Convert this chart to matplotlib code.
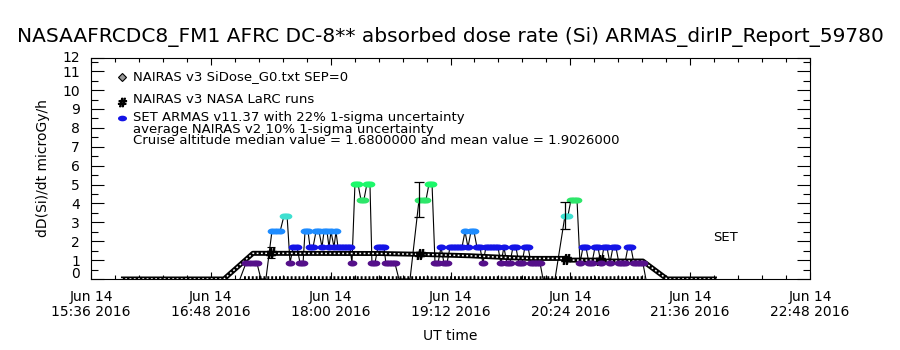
import numpy as np
import matplotlib
matplotlib.use('Agg')
import matplotlib.pyplot as plt
from matplotlib.path import Path
from matplotlib.ticker import MultipleLocator
from matplotlib.transforms import ScaledTranslation

# time axis: minutes after Jun 14 2016 15:36 UT
x_ticks = [0, 72, 144, 216, 288, 360, 432]
x_labels = ['Jun 14\n15:36 2016', 'Jun 14\n16:48 2016', 'Jun 14\n18:00 2016',
            'Jun 14\n19:12 2016', 'Jun 14\n20:24 2016', 'Jun 14\n21:36 2016',
            'Jun 14\n22:48 2016']
y_ticks = [0, 1, 2, 3, 4, 5, 6, 7, 8, 9, 10, 11, 11.7]
y_labels = ['0', '1', '2', '3', '4', '5', '6', '7', '8', '9', '10', '11', '12']

# NAIRAS v3 SiDose G0 model along the flight track
nairas_t = [18.0, 79.9, 97.3, 173.6, 195.9, 227.7, 251.7, 263.8, 286.0, 287.8,
            304.0, 307.6, 331.6, 346.1, 376.1]
nairas_v = [0, 0, 1.36, 1.35, 1.31, 1.23, 1.13, 1.09, 1.09, 1.0, 1.0, 0.95, 0.95, 0, 0]

# NAIRAS v3 NASA LaRC runs
larc_t = [108.1, 197.7, 285.4, 305.8]
larc_v = [1.40, 1.33, 1.08, 1.02]
larc_err = [0.3, 0, 0, 0]

# SET ARMAS dose rate (quantised in steps of 0.84 microGy/h)
armas_t = [89.5, 93.1, 95.5, 97.9, 99.7, 102.1, 105.1, 108.7, 111.1, 113.6,
           116.0, 117.8, 119.6, 121.4, 123.8, 125.6, 127.4, 128.6, 130.4, 131.6,
           133.4, 135.2, 137.0, 138.8, 140.0, 141.8, 143.0, 144.2, 146.0, 147.2,
           148.4, 150.2, 152.0, 153.8, 155.6, 156.8, 158.6, 160.4, 162.2, 164.0,
           165.8, 167.6, 168.8, 170.6, 172.4, 174.2, 176.0, 177.2, 179.0, 180.8,
           182.6, 185.0, 191.7, 197.1, 199.5, 201.3, 203.1, 204.9, 206.7, 208.5,
           210.3, 212.1, 213.9, 215.7, 217.5, 219.3, 221.1, 222.9, 224.7, 226.5,
           228.3, 230.1, 231.9, 233.7, 235.5, 237.3, 239.1, 240.9, 242.7, 244.5,
           246.3, 248.1, 249.9, 251.7, 253.5, 255.3, 257.1, 258.9, 260.7, 262.6,
           264.4, 266.2, 268.0, 269.8, 271.6, 278.8, 284.8, 286.6, 288.4, 290.2,
           292.0, 293.8, 295.6, 297.4, 299.2, 301.0, 302.8, 304.6, 306.4, 308.2,
           310.0, 311.8, 313.6, 315.4, 317.2, 319.0, 320.8, 322.6, 324.4, 326.2,
           328.0, 329.8, 331.6, 333.4]
armas_v = [0, 0.84, 0.84, 0.84, 0.84, 0, 0, 2.52, 2.52, 2.52,
           3.36, 3.36, 0.84, 1.68, 1.68, 0.84, 0.84, 2.52, 2.52, 1.68,
           1.68, 2.52, 2.52, 1.68, 2.52, 2.52, 1.68, 2.52, 1.68, 2.52,
           1.68, 1.68, 1.68, 1.68, 1.68, 0.84, 5.04, 5.04, 4.2, 4.2,
           5.04, 5.04, 0.84, 0.84, 1.68, 1.68, 1.68, 0.84, 0.84, 0.84,
           0.84, 0, 0, 4.2, 4.2, 4.2, 5.04, 5.04, 0.84, 0.84,
           1.68, 0.84, 0.84, 1.68, 1.68, 1.68, 1.68, 1.68, 2.52, 1.68,
           2.52, 2.52, 1.68, 1.68, 0.84, 1.68, 1.68, 1.68, 1.68, 1.68,
           0.84, 1.68, 0.84, 0.84, 1.68, 1.68, 0.84, 0.84, 1.68, 1.68,
           0.84, 0.84, 0.84, 0.84, 0, 0, 3.36, 3.36, 4.2, 4.2,
           4.2, 0.84, 1.68, 1.68, 0.84, 0.84, 1.68, 1.68, 0.84, 1.68,
           1.68, 0.84, 1.68, 1.68, 0.84, 0.84, 0.84, 1.68, 1.68, 0.84,
           0.84, 0.84, 0.84, 0]
armas_err_t = [197.1, 284.8]
armas_err_v = [4.2, 3.36]
armas_zero_t = [91.9, 333.0]

level_step = 0.84
level_colors = [None, '#55108a', '#1414e6', '#1e8cff', '#3ee0d0', '#2ee66a', '#1cf86a']

title = 'NASAAFRCDC8_FM1 AFRC DC-8** absorbed dose rate (Si) ARMAS_dirIP_Report_59780'
legend_lines = ['NAIRAS v3 SiDose_G0.txt SEP=0',
                'NAIRAS v3 NASA LaRC runs',
                'SET ARMAS v11.37 with 22% 1-sigma uncertainty',
                'average NAIRAS v2 10% 1-sigma uncertainty',
                'Cruise altitude median value = 1.6800000 and mean value = 1.9026000']

plt.rcParams['font.family'] = ['DejaVu Sans']

# wide ellipse marker like the IDL user symbol
theta = np.linspace(0, 2 * np.pi, 40)
ellipse = Path(np.column_stack([1.6 * np.cos(theta), np.sin(theta)]), closed=True)

fig = plt.figure(figsize=(9, 3.5), dpi=100)
ax = fig.add_axes([91 / 900, 1 - 279 / 350, 719 / 900, 221 / 350])
ax.set_xlim(0, 432)
ax.set_ylim(0, 11.7)

# ARMAS zero readings strip along the bottom
ax.plot(armas_zero_t, [0, 0], color='black', lw=4, ls=(0, (0.35, 0.35)), zorder=2)

# ARMAS connecting line
ax.plot(armas_t, armas_v, color='black', lw=0.8, zorder=3)

# NAIRAS G0 chain of hatched diamonds
ax.plot(nairas_t, nairas_v, color='black', lw=3.6, zorder=4, solid_capstyle='butt')
ax.plot(nairas_t, nairas_v, color='white', lw=1.1, ls=(0, (1.2, 1.6)), zorder=5)

# LaRC runs
ax.errorbar(larc_t, larc_v, yerr=larc_err, fmt='none', ecolor='black', elinewidth=0.8,
            capsize=3, capthick=0.8, zorder=6)
ax.plot(larc_t, larc_v, ls='none', marker='$\\#$', ms=7, color='black', zorder=6)

# ARMAS coloured points by level
armas_t_arr = np.array(armas_t)
armas_v_arr = np.array(armas_v)
levels = np.rint(armas_v_arr / level_step).astype(int)
for lev in range(1, len(level_colors)):
    sel = levels == lev
    if sel.any():
        ax.plot(armas_t_arr[sel], armas_v_arr[sel], ls='none', marker=ellipse, ms=7,
                mfc=level_colors[lev], mec=level_colors[lev], mew=0, zorder=7)

ax.errorbar(armas_err_t, armas_err_v, yerr=0.22 * np.array(armas_err_v), fmt='none',
            ecolor='black', elinewidth=0.9, capsize=3.5, capthick=0.9, zorder=8)

# legend block
lx, tx = 0.043, 0.058
ly = [0.914, 0.81, 0.729, 0.677, 0.627]
ax.plot([lx], [ly[0]], transform=ax.transAxes, marker='D', ms=4.5, mfc='#999999',
        mec='black', mew=0.8, ls='none')
ax.plot([lx], [ly[1] - 0.01], transform=ax.transAxes, marker='$\\#$', ms=6, color='black', ls='none')
ax.plot([lx], [ly[2]], transform=ax.transAxes, marker=ellipse, ms=6.5, mfc=level_colors[2],
        mec=level_colors[2], mew=0, ls='none')
for txt, yy in zip(legend_lines, ly):
    ax.text(tx, yy, txt, transform=ax.transAxes, fontsize=9.5, va='center', ha='left')

ax.text(0.865, 0.19, 'SET', transform=ax.transAxes, fontsize=9.5, va='center', ha='left')

# axes styling in the IDL manner
ax.set_xticks(x_ticks)
ax.set_xticklabels(x_labels, fontsize=10, linespacing=1.05)
ax.xaxis.set_minor_locator(MultipleLocator(14.4))
ax.set_yticks(y_ticks)
ax.set_yticklabels(y_labels, fontsize=10)
ax.yaxis.set_minor_locator(MultipleLocator(0.5))
ax.tick_params(axis='x', which='major', direction='in', length=5, width=0.8, top=True, pad=8)
ax.tick_params(axis='x', which='minor', direction='in', length=3, width=0.8, top=True)
ax.tick_params(axis='y', which='major', direction='in', length=9.5, width=0.8, right=True, pad=8)
ax.tick_params(axis='y', which='minor', direction='in', length=5, width=0.8, right=True)
for s in ax.spines.values():
    s.set_linewidth(0.8)

ylabs = ax.get_yticklabels()
ylabs[0].set_transform(ylabs[0].get_transform() + ScaledTranslation(0, 6 / 100, fig.dpi_scale_trans))
ylabs[-1].set_transform(ylabs[-1].get_transform() + ScaledTranslation(0, 2 / 100, fig.dpi_scale_trans))

fig.text(0.5, 1 - 37 / 350, title, ha='center', va='center', fontsize=14.5)
fig.text(43 / 900, 1 - 168 / 350, 'dD(Si)/dt microGy/h', rotation=90, ha='center',
         va='center', fontsize=10)
fig.text(450 / 900, 1 - 336 / 350, 'UT time', ha='center', va='center', fontsize=10)

fig.savefig('out.png', dpi=100)
